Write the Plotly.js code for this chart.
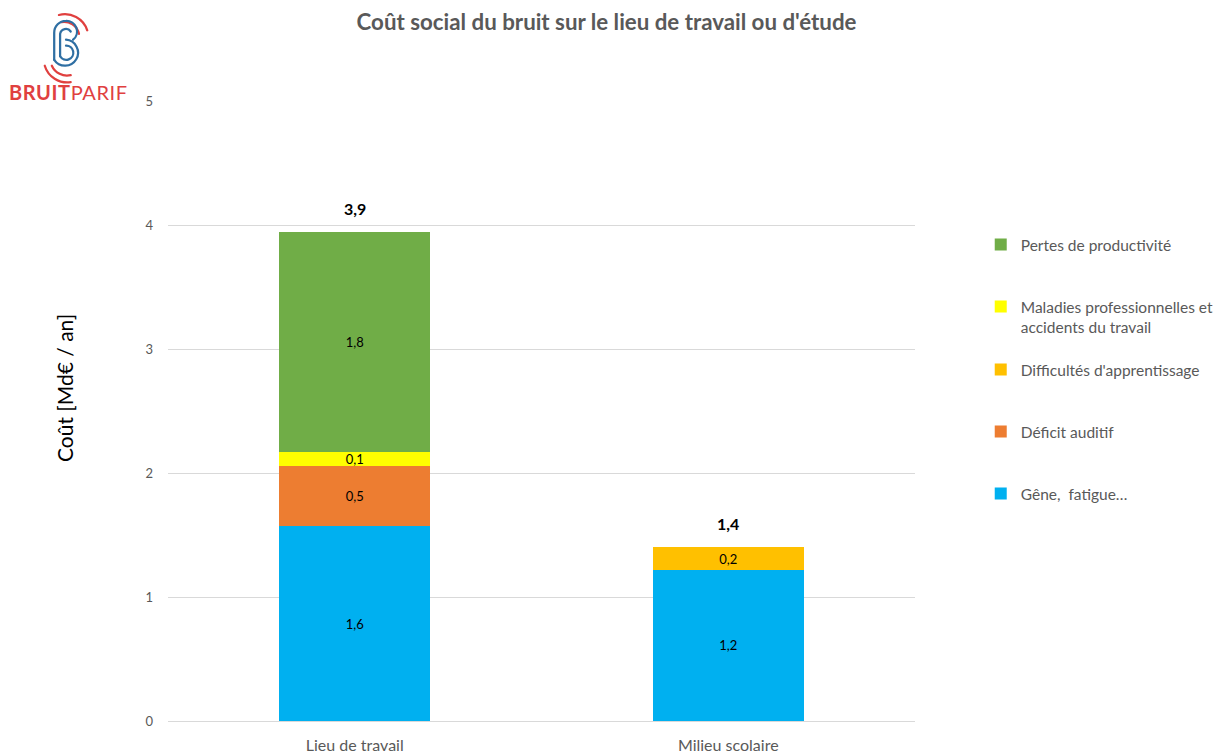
<!DOCTYPE html>
<html>
<head>
<meta charset="utf-8">
<script src="https://cdn.plot.ly/plotly-3.0.1.min.js"></script>
<style>
  html, body { margin: 0; padding: 0; background: #fff; }
  #wrap { position: relative; width: 1218px; height: 756px; }
  #chart { width: 1218px; height: 756px; }
  #logo { position: absolute; left: 0; top: 0; width: 140px; height: 110px; pointer-events: none; }
</style>
</head>
<body>
<div id="wrap">
  <div id="chart"></div>
  <svg id="logo" viewBox="0 0 140 110" xmlns="http://www.w3.org/2000/svg">
    <g fill="none" stroke-linecap="round" transform="translate(66,48) scale(1.18) translate(-66,-45)">
      <path d="M60 17 A20 20 0 0 1 84 30" stroke="#e0403f" stroke-width="1.9"/>
      <path d="M62 23 A13 13 0 0 1 77 33" stroke="#e0403f" stroke-width="1.9"/>
      <path d="M48 60 A20 20 0 0 0 70 74" stroke="#e0403f" stroke-width="1.9"/>
      <path d="M54 60 A14 14 0 0 0 70 68" stroke="#e0403f" stroke-width="1.9"/>
      <path d="M56 55 L56 32 A10 10 0 0 1 66 22 A9 9 0 0 1 72 38" stroke="#2f6fa3" stroke-width="1.9"/>
      <path d="M61 52 L61 33 A5 5 0 0 1 70 31" stroke="#2f6fa3" stroke-width="1.9"/>
      <path d="M66 38 A11 11 0 1 1 56 55" stroke="#2f6fa3" stroke-width="1.9"/>
      <path d="M66 43 A6 6 0 1 1 61 52" stroke="#2f6fa3" stroke-width="1.9"/>
    </g>
    <text x="9" y="100" font-family="Lato, 'Open Sans', sans-serif" font-size="20" letter-spacing="0.6" fill="#e0403f"><tspan font-weight="bold">BRUIT</tspan><tspan>PARIF</tspan></text>
  </svg>
</div>
<script>
const categories = ['Lieu de travail', 'Milieu scolaire'];

const geneValues = [1.57, 1.22];
const deficitValues = [0.49, null];
const difficultesValues = [null, 0.18];
const maladiesValues = [0.11, null];
const pertesValues = [1.77, null];

const geneLabels = ['1,6', '1,2'];
const deficitLabels = ['0,5', ''];
const difficultesLabels = ['', '0,2'];
const maladiesLabels = ['0,1', ''];
const pertesLabels = ['1,8', ''];

const totalValues = [3.94, 1.40];
const totalLabels = ['3,9', '1,4'];

const seriesNames = [
  'Gêne,&nbsp; fatigue…',
  'Déficit auditif',
  "Difficultés d'apprentissage",
  'Maladies professionnelles et<br>accidents du travail',
  'Pertes de productivité'
];
const seriesColors = ['#00b0f0', '#ed7d31', '#ffc000', '#ffff00', '#70ad47'];

const FONT = 'Lato, "Open Sans", sans-serif';
const GRAY = '#595959';

const seriesValues = [geneValues, deficitValues, difficultesValues, maladiesValues, pertesValues];
const seriesLabels = [geneLabels, deficitLabels, difficultesLabels, maladiesLabels, pertesLabels];
const legendIds = ['legend5', 'legend4', 'legend3', 'legend2', 'legend'];

const traces = seriesValues.map((vals, i) => ({
  type: 'bar',
  x: categories,
  y: vals,
  name: seriesNames[i],
  legend: legendIds[i],
  marker: { color: seriesColors[i] },
  text: seriesLabels[i],
  textposition: 'inside',
  insidetextanchor: 'middle',
  textangle: 0,
  textfont: { family: FONT, size: 13, color: '#000000' },
  hoverinfo: 'none'
}));

function py(px) { return (721 - px) / 620; }
function pxx(px) { return (px - 168) / 747; }

const annotations = categories.map((c, i) => ({
  x: c, y: totalValues[i], xref: 'x', yref: 'y',
  text: '<b>' + totalLabels[i] + '</b>',
  showarrow: false, yanchor: 'bottom', yshift: 12,
  font: { family: FONT, size: 16, color: '#000000' }
}));
annotations.push({
  xref: 'paper', yref: 'paper', x: pxx(64), y: py(388),
  xanchor: 'center', yanchor: 'middle', textangle: -90, showarrow: false,
  text: 'Coût [Md€ / an]',
  font: { family: FONT, size: 21, color: '#000000' }
});

const legX = 1.088;
function leg(ypx) {
  return {
    x: legX, y: py(ypx), xanchor: 'left', yanchor: 'top',
    bgcolor: 'rgba(0,0,0,0)', valign: 'top',
    font: { family: FONT, size: 15.5, color: GRAY },
    itemwidth: 30, tracegroupgap: 0
  };
}

const layout = {
  width: 1218, height: 756,
  margin: { l: 168, r: 303, t: 101, b: 35, autoexpand: false },
  paper_bgcolor: '#ffffff', plot_bgcolor: '#ffffff',
  barmode: 'stack',
  bargap: 0.596,
  hovermode: false,
  uniformtext: { minsize: 13, mode: 'show' },
  title: {
    text: "<b>Coût social du bruit sur le lieu de travail ou d'étude</b>",
    x: 0.498, xanchor: 'center', y: 0.97, yanchor: 'middle',
    font: { family: FONT, size: 22.3, color: GRAY }
  },
  xaxis: {
    type: 'category',
    showgrid: false, zeroline: false, showline: false,
    ticks: '', tickfont: { family: FONT, size: 16, color: GRAY },
    ticklabelstandoff: 13
  },
  yaxis: {
    range: [0, 5], dtick: 1, tick0: 0,
    showgrid: true, gridcolor: '#d9d9d9', gridwidth: 1,
    zeroline: true, zerolinecolor: '#d9d9d9', zerolinewidth: 1,
    showline: false, ticks: '',
    tickfont: { family: FONT, size: 13, color: GRAY },
    ticklabelstandoff: 14
  },
  showlegend: true,
  legend: leg(228),
  legend2: leg(290),
  legend3: leg(353),
  legend4: leg(415),
  legend5: leg(477),
  annotations: annotations
};

Plotly.newPlot('chart', traces, layout, { displayModeBar: false, staticPlot: true });
</script>
</body>
</html>
